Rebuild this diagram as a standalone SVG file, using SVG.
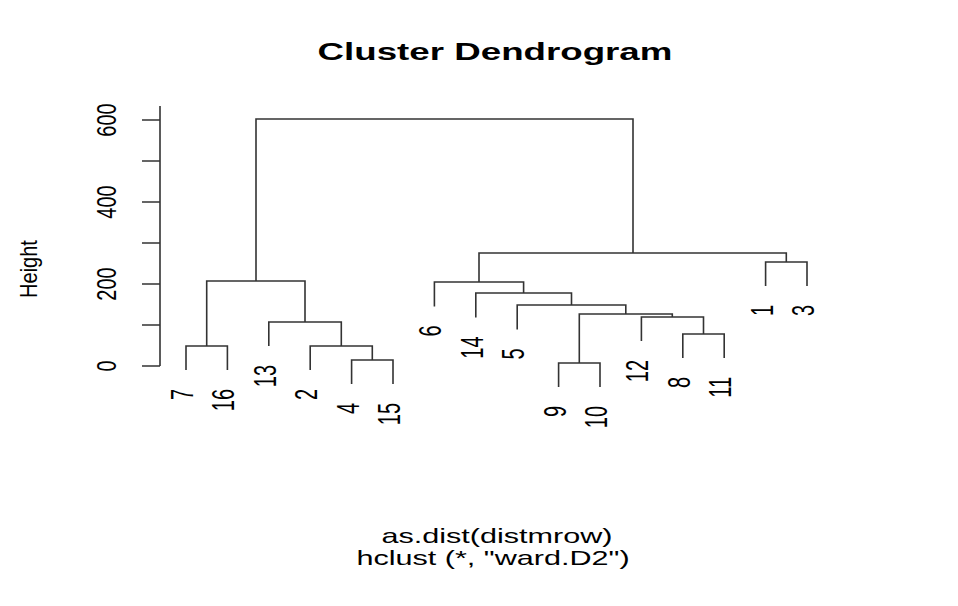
<svg xmlns="http://www.w3.org/2000/svg" width="958" height="606" viewBox="0 0 958 606">
<style>
text{font-family:"Liberation Sans",Arial,sans-serif;fill:#000}
.t{font-size:24px;font-weight:bold;text-anchor:middle}
.s{font-size:20px;text-anchor:middle}
.lab{font-size:20px;text-anchor:end}
.ax{font-size:20px;text-anchor:middle}
.ln{fill:none;stroke:#333;stroke-width:1.6}
</style>
<rect width="958" height="606" fill="#fff"/>
<g id="title"><text class="t" transform="translate(495,60) scale(1.53,1)">Cluster Dendrogram</text></g>
<g id="subtitle">
<text class="s" transform="translate(497,543) scale(1.53,1)">as.dist(distmrow)</text>
<text class="s" transform="translate(493,565) scale(1.53,1)">hclust (*, "ward.D2")</text>
</g>
<g id="yaxis">
<path class="ln" d="M160,106V366M142,366H160M142,325H160M142,284H160M142,243H160M142,202H160M142,161H160M142,120H160"/>
<text class="ax" transform="translate(116,366) scale(1.4,1) rotate(-90)">0</text>
<text class="ax" transform="translate(116,284) scale(1.4,1) rotate(-90)">200</text>
<text class="ax" transform="translate(116,202) scale(1.4,1) rotate(-90)">400</text>
<text class="ax" transform="translate(116,120) scale(1.4,1) rotate(-90)">600</text>
<text class="ax" transform="translate(37,269) scale(1.2,1) rotate(-90)">Height</text>
</g>
<g id="connectors">
<path class="ln" d="M186,370V346H227.4V370"/>
<path class="ln" d="M351.6,384V360H393V384"/>
<path class="ln" d="M310.2,370V346H372.3V360"/>
<path class="ln" d="M268.8,346V322H341.3V346"/>
<path class="ln" d="M206.7,346V281H305V322"/>
<path class="ln" d="M256,281V119H633V253"/>
<path class="ln" d="M479,282V253H786.3V262"/>
<path class="ln" d="M765.6,286V262H807V286"/>
<path class="ln" d="M434.4,306.5V282H523.6V293"/>
<path class="ln" d="M475.8,317.5V293H571.5V305"/>
<path class="ln" d="M517.2,329.5V305H625.8V314"/>
<path class="ln" d="M558.6,387V363H600V387"/>
<path class="ln" d="M579.3,363V314H672.3V317"/>
<path class="ln" d="M641.4,341V317H703.5V334"/>
<path class="ln" d="M682.8,358V334H724.2V358"/>
</g>
<g id="leaf-7"><text class="lab" transform="translate(193,389) scale(1.53,1) rotate(-90)">7</text></g>
<g id="leaf-16"><text class="lab" transform="translate(234.4,389) scale(1.53,1) rotate(-90)">16</text></g>
<g id="leaf-13"><text class="lab" transform="translate(275.8,365) scale(1.53,1) rotate(-90)">13</text></g>
<g id="leaf-2"><text class="lab" transform="translate(317.2,389) scale(1.53,1) rotate(-90)">2</text></g>
<g id="leaf-4"><text class="lab" transform="translate(358.6,403) scale(1.53,1) rotate(-90)">4</text></g>
<g id="leaf-15"><text class="lab" transform="translate(400,403) scale(1.53,1) rotate(-90)">15</text></g>
<g id="leaf-6"><text class="lab" transform="translate(441.4,325.5) scale(1.53,1) rotate(-90)">6</text></g>
<g id="leaf-14"><text class="lab" transform="translate(482.8,336.5) scale(1.53,1) rotate(-90)">14</text></g>
<g id="leaf-5"><text class="lab" transform="translate(524.2,348.5) scale(1.53,1) rotate(-90)">5</text></g>
<g id="leaf-9"><text class="lab" transform="translate(565.6,406) scale(1.53,1) rotate(-90)">9</text></g>
<g id="leaf-10"><text class="lab" transform="translate(607,406) scale(1.53,1) rotate(-90)">10</text></g>
<g id="leaf-12"><text class="lab" transform="translate(648.4,360) scale(1.53,1) rotate(-90)">12</text></g>
<g id="leaf-8"><text class="lab" transform="translate(689.8,377) scale(1.53,1) rotate(-90)">8</text></g>
<g id="leaf-11"><text class="lab" transform="translate(731.2,377) scale(1.53,1) rotate(-90)">11</text></g>
<g id="leaf-1"><text class="lab" transform="translate(772.6,305) scale(1.53,1) rotate(-90)">1</text></g>
<g id="leaf-3"><text class="lab" transform="translate(814,305) scale(1.53,1) rotate(-90)">3</text></g>
</svg>
